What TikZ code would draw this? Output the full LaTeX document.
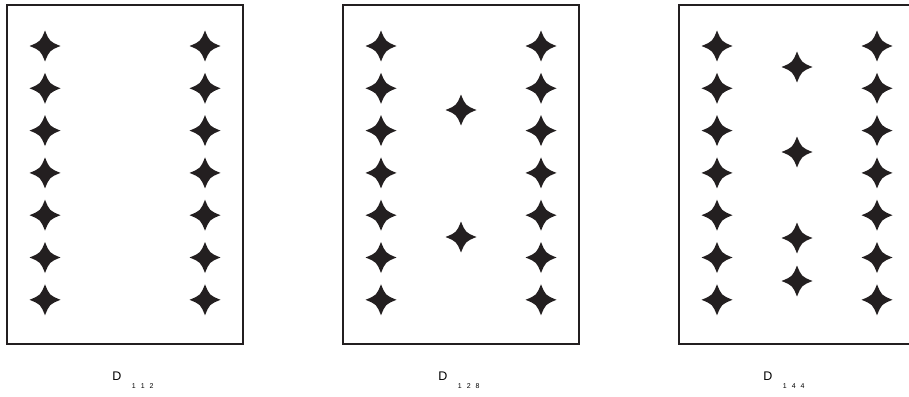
\documentclass[tikz,border=0pt]{standalone}
\usepackage{fontspec}
\setmainfont{Liberation Sans}
\usetikzlibrary{positioning}
\definecolor{inkgray}{HTML}{231F20}
\tikzstyle{panel} = [
  draw=inkgray, line width=2pt, minimum width=236pt, minimum height=339pt,
  inner sep=0pt, outer sep=0pt
]
\tikzset{
  sparkle/.pic={
    \fill[inkgray] (0,15.5) .. controls (4.5,4.5) .. (15.5,0)
      .. controls (4.5,-4.5) .. (0,-15.5)
      .. controls (-4.5,-4.5) .. (-15.5,0)
      .. controls (-4.5,4.5) .. cycle;
  }
}

\begin{document}
\begin{tikzpicture}[
  x=1pt, y=-1pt,
  tag/.style={font=\fontsize{12.5}{14}\selectfont, inner sep=0pt, anchor=base},
  subtag/.style={font=\fontsize{7}{8}\selectfont, inner sep=0pt,
                 anchor=base west, execute at begin node={\spaceskip=5pt\relax}},
]
  \clip (0,0) rectangle (909,396);
  % panels
  \node[panel] (panelA) at (125,174.5) {};
  \node[panel] (panelB) at (461,174.5) {};
  \node[panel] (panelC) at (797,174.5) {};

  % two columns of seven in every panel
  \foreach \p in {panelA,panelB,panelC}
    \foreach \k in {0,...,6} {
      \pic at ([xshift=38pt, yshift=-41pt-42.3pt*\k]\p.north west) {sparkle};
      \pic at ([xshift=-38pt, yshift=-41pt-42.3pt*\k]\p.north east) {sparkle};
    }

  % extra ones in the middle
  \foreach \y in {110,237}
    \pic at (461,\y) {sparkle};
  \foreach \y in {67,152,238,281}
    \pic at (797,\y) {sparkle};

  % labels
  \node[tag] (tagA) at (117,380.5) {D};
  \node[subtag] (subA) at ([xshift=10pt, yshift=-8pt]tagA.base east) {1 1 2};
  \node[tag] (tagB) at (443,380.5) {D};
  \node[subtag] (subB) at ([xshift=10pt, yshift=-8pt]tagB.base east) {1 2 8};
  \node[tag] (tagC) at (768,380.5) {D};
  \node[subtag] (subC) at ([xshift=10pt, yshift=-8pt]tagC.base east) {1 4 4};
\end{tikzpicture}
\end{document}
